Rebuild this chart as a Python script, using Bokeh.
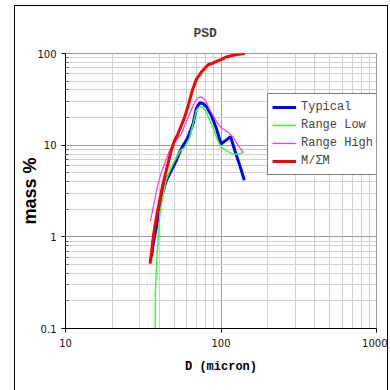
from bokeh.plotting import figure
from bokeh.models import FixedTicker, Legend, LegendItem
from bokeh.embed import file_html
from bokeh.resources import INLINE

# ---- data ----
d_typical = [35.8, 36.4, 39.2, 40.2, 41.6, 44.4, 47.8, 51.5, 54.1, 56.9, 61.3, 66.1,
             69.4, 72.9, 76.7, 80.6, 86.8, 93.5, 100, 106.9, 115.2, 122.9, 132.3, 141.3]
typical = [0.61, 0.79, 1.55, 2.07, 2.78, 4.07, 5.24, 6.75, 8.31, 9.85, 12.15, 17.06,
           25.1, 29.0, 28.3, 26.4, 21.0, 15.1, 10.3, 11.2, 12.4, 8.68, 5.94, 4.14]

d_low = [37.8, 37.8, 38.6, 39.7, 40.6, 42.3, 44.4, 47.8, 51.5, 54.7, 58.9, 62.8, 66.1,
         69.4, 72.9, 76.7, 80.6, 89.0, 95.9, 100, 108.5, 119.9, 129.2, 139.2]
range_low = [0.01, 0.232, 0.538, 1.15, 1.90, 2.78, 4.17, 5.65, 7.28, 8.68, 9.61, 12.05, 17.06,
             23.85, 26.4, 25.9, 22.9, 15.3, 10.9, 9.61, 8.68, 7.98, 7.98, 8.31]

d_high = [35.2, 37.3, 39.2, 41.2, 43.3, 46.6, 50.2, 55.5, 58.3, 62.8, 67.7, 71.2, 74.8,
          78.6, 84.6, 93.5, 100, 111.3, 119.9, 129.2, 139.2]
range_high = [1.48, 2.45, 3.67, 4.98, 6.20, 8.68, 10.6, 13.2, 16.3, 21.9, 29.4, 32.9, 33.4,
              31.5, 24.5, 18.1, 15.5, 13.8, 12.2, 9.85, 8.31]

d_cum = [35.0, 35.8, 36.7, 38.2, 40.2, 42.3, 44.4, 47.8, 50.2, 52.8, 55.5, 58.3, 62.1,
         65.4, 69.4, 74.8, 82.6, 89.0, 95.9, 100, 108.5, 120, 129.8, 142.6]
cumulative = [0.51, 0.69, 1.01, 1.55, 2.45, 3.74, 5.24, 8.68, 11.2, 13.2, 16.3, 20.1, 28.5,
              39.5, 52.2, 62.8, 75.4, 78.8, 83.4, 85.9, 91.8, 95.8, 98.2, 100]

series_names = ["Typical", "Range Low", "Range High", "M/\u03a3M"]

x_ticks = [10, 100, 1000]
x_tick_labels = ["10", "100", "1000"]
x_minor = [20, 30, 40, 50, 60, 70, 80, 90, 200, 300, 400, 500, 600, 700, 800, 900]
y_ticks = [0.1, 1, 10, 100]
y_tick_labels = ["0.1", "1", "10", "100"]
y_minor = [0.2, 0.3, 0.4, 0.5, 0.6, 0.7, 0.8, 0.9, 2, 3, 4, 5, 6, 7, 8, 9,
           20, 30, 40, 50, 60, 70, 80, 90]

# ---- figure ----
p = figure(width=374, height=385, x_axis_type="log", y_axis_type="log",
           x_range=(10, 1000), y_range=(0.1, 100),
           output_backend="svg", toolbar_location=None,
           min_border_left=50, min_border_right=13, min_border_top=47, min_border_bottom=63,
           margin=(5, 0, 0, 14))
p.styles = {"border-top": "1px solid #000000",
            "border-left": "1px solid #000000",
            "border-right": "1px solid #000000"}
p.background_fill_color = "white"
p.border_fill_color = "white"
p.outline_line_color = "#9a9a9a"

p.title.text = "PSD"
p.title.align = "left"
p.title.offset = 128
p.title.text_font = "Liberation Mono"
p.title.text_font_style = "bold"
p.title.text_font_size = "13px"
p.title.standoff = 25

xt = FixedTicker(ticks=x_ticks, minor_ticks=x_minor)
yt = FixedTicker(ticks=y_ticks, minor_ticks=y_minor)
p.xaxis.ticker = xt
p.yaxis.ticker = yt
p.xaxis.major_label_overrides = {t: s for t, s in zip(x_ticks, x_tick_labels)}
p.yaxis.major_label_overrides = {t: s for t, s in zip(y_ticks, y_tick_labels)}

for ax in (p.xaxis[0], p.yaxis[0]):
    ax.axis_line_color = "black"
    ax.major_tick_line_color = "black"
    ax.major_tick_in = 0
    ax.major_tick_out = 4
    ax.major_label_text_font = "DejaVu Sans"
    ax.major_label_text_font_size = "10px"
    ax.major_label_text_color = "#111111"
    ax.axis_label_text_color = "black"
    ax.axis_label_text_font_style = "bold"

p.xaxis.minor_tick_line_color = None
p.yaxis.minor_tick_in = 3
p.yaxis.minor_tick_out = 0
p.yaxis.minor_tick_line_color = "#555555"
p.xaxis.major_label_standoff = 6
p.yaxis.major_label_standoff = 5

p.xaxis.axis_label = "D (micron)"
p.xaxis.axis_label_text_font = "Liberation Mono"
p.xaxis.axis_label_text_font_size = "12px"
p.xaxis.axis_label_standoff = 10
p.yaxis.axis_label = "mass %"
p.yaxis.axis_label_text_font = "Liberation Sans"
p.yaxis.axis_label_text_font_size = "18px"
p.yaxis.axis_label_standoff = -6

p.xgrid.grid_line_color = "#a0a0a0"
p.ygrid.grid_line_color = "#a0a0a0"
p.xgrid.minor_grid_line_color = "#d0d0d0"
p.ygrid.minor_grid_line_color = "#d0d0d0"

r1 = p.line(d_typical, typical, line_color="#0000ff", line_width=3)
r2 = p.line(d_low, range_low, line_color="#33ff33", line_width=1.5)
r3 = p.line(d_high, range_high, line_color="#ff33ff", line_width=1.2)
r4 = p.line(d_cum, cumulative, line_color="#ff0000", line_width=3)

legend = Legend(items=[LegendItem(label=n, renderers=[r]) for n, r in
                       zip(series_names, [r1, r2, r3, r4])],
                location=(202, 153))
legend.border_line_color = "black"
legend.border_line_width = 1
legend.background_fill_color = "white"
legend.background_fill_alpha = 1
legend.label_text_font = "Liberation Mono"
legend.label_text_font_size = "12px"
legend.padding = 4
legend.spacing = 0
legend.margin = 0
legend.label_height = 18
legend.glyph_height = 18
legend.glyph_width = 24
legend.label_standoff = 5
p.add_layout(legend)

open("out.html", "w").write(file_html(p, INLINE))
